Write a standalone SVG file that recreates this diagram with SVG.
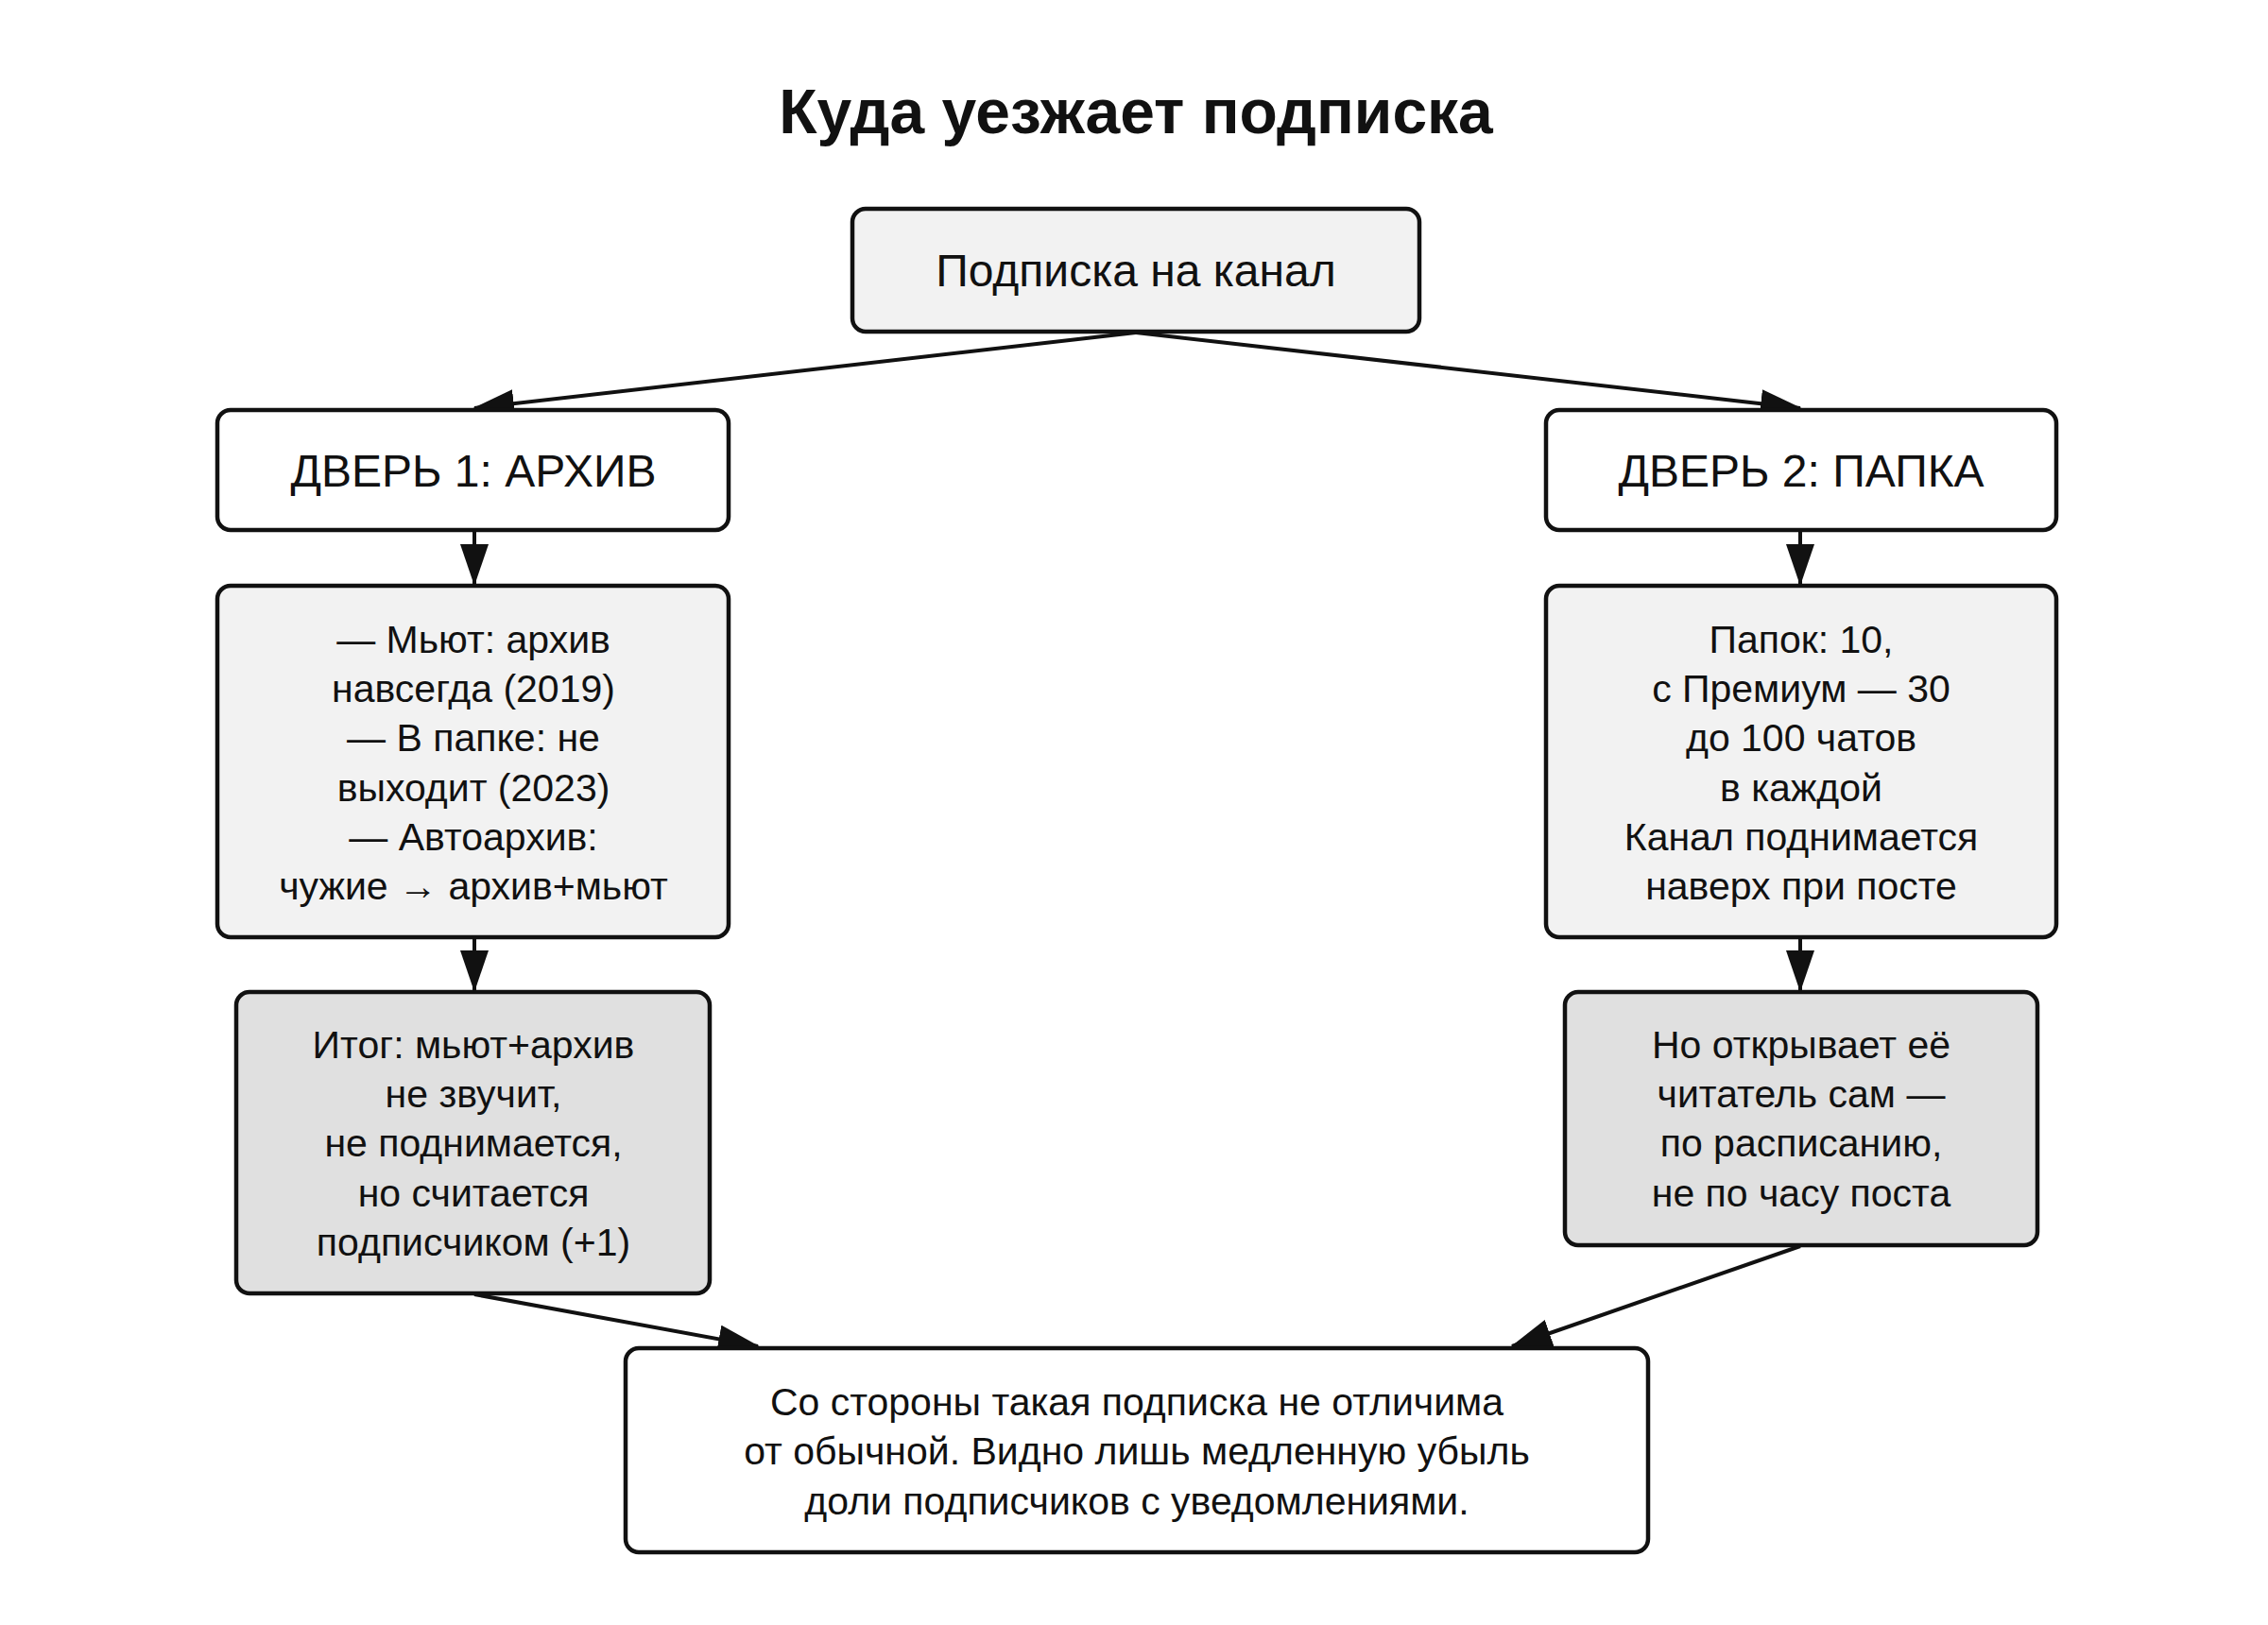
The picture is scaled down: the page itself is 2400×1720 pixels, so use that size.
<svg xmlns="http://www.w3.org/2000/svg" width="2400" height="1720" viewBox="0 0 2400 1720">
<style>
.n{stroke:#111;stroke-width:4.5}
.t{font-family:"Liberation Sans",Arial,sans-serif;font-size:41px;fill:#111;text-anchor:middle;dominant-baseline:central}
.d{font-size:48px}
.e{stroke:#111;stroke-width:4;fill:none}
</style>
<defs><marker id="a" markerUnits="userSpaceOnUse" markerWidth="44" markerHeight="30" refX="42" refY="15" orient="auto"><path d="M0,0L44,15L0,30z" fill="#111"/></marker></defs>
<rect width="2400" height="1720" fill="#fff"/>
<text class="t" x="1202" y="118" style="font-size:66px;font-weight:bold">Куда уезжает подписка</text>
<g id="edges">
<path class="e" d="M1202,352L502,432" marker-end="url(#a)"/>
<path class="e" d="M1202,352L1905,432" marker-end="url(#a)"/>
<path class="e" d="M502,562L502,618" marker-end="url(#a)"/>
<path class="e" d="M1905,562L1905,618" marker-end="url(#a)"/>
<path class="e" d="M502,993L502,1048" marker-end="url(#a)"/>
<path class="e" d="M1905,993L1905,1048" marker-end="url(#a)"/>
<path class="e" d="M502,1370L802,1425" marker-end="url(#a)"/>
<path class="e" d="M1905,1319L1600,1425" marker-end="url(#a)"/>
</g>
<g id="top"><rect class="n" x="902" y="221" width="600" height="130" rx="14" fill="#f2f2f2"/><text class="t d" x="1202" y="286">Подписка на канал</text></g>
<g id="door1"><rect class="n" x="230" y="434" width="541" height="127" rx="14" fill="#fff"/><text class="t d" x="501" y="498">ДВЕРЬ 1: АРХИВ</text></g>
<g id="door2"><rect class="n" x="1636" y="434" width="540" height="127" rx="14" fill="#fff"/><text class="t d" x="1906" y="498">ДВЕРЬ 2: ПАПКА</text></g>
<g id="detail1"><rect class="n" x="230" y="620" width="541" height="372" rx="14" fill="#f2f2f2"/>
<text class="t" x="501" y="677">— Мьют: архив</text><text class="t" x="501" y="729">навсегда (2019)</text><text class="t" x="501" y="781">— В папке: не</text><text class="t" x="501" y="834">выходит (2023)</text><text class="t" x="501" y="886">— Автоархив:</text><text class="t" x="501" y="938">чужие → архив+мьют</text></g>
<g id="detail2"><rect class="n" x="1636" y="620" width="540" height="372" rx="14" fill="#f2f2f2"/>
<text class="t" x="1906" y="677">Папок: 10,</text><text class="t" x="1906" y="729">с Премиум — 30</text><text class="t" x="1906" y="781">до 100 чатов</text><text class="t" x="1906" y="834">в каждой</text><text class="t" x="1906" y="886">Канал поднимается</text><text class="t" x="1906" y="938">наверх при посте</text></g>
<g id="result1"><rect class="n" x="250" y="1050" width="501" height="319" rx="14" fill="#e0e0e0"/>
<text class="t" x="501" y="1106">Итог: мьют+архив</text><text class="t" x="501" y="1158">не звучит,</text><text class="t" x="501" y="1210">не поднимается,</text><text class="t" x="501" y="1263">но считается</text><text class="t" x="501" y="1315">подписчиком (+1)</text></g>
<g id="result2"><rect class="n" x="1656" y="1050" width="500" height="268" rx="14" fill="#e0e0e0"/>
<text class="t" x="1906" y="1106">Но открывает её</text><text class="t" x="1906" y="1158">читатель сам —</text><text class="t" x="1906" y="1210">по расписанию,</text><text class="t" x="1906" y="1263">не по часу поста</text></g>
<g id="bottom"><rect class="n" x="662" y="1427" width="1082" height="216" rx="14" fill="#fff"/>
<text class="t" x="1203" y="1484">Со стороны такая подписка не отличима</text><text class="t" x="1203" y="1536">от обычной. Видно лишь медленную убыль</text><text class="t" x="1203" y="1589">доли подписчиков с уведомлениями.</text></g>
</svg>
